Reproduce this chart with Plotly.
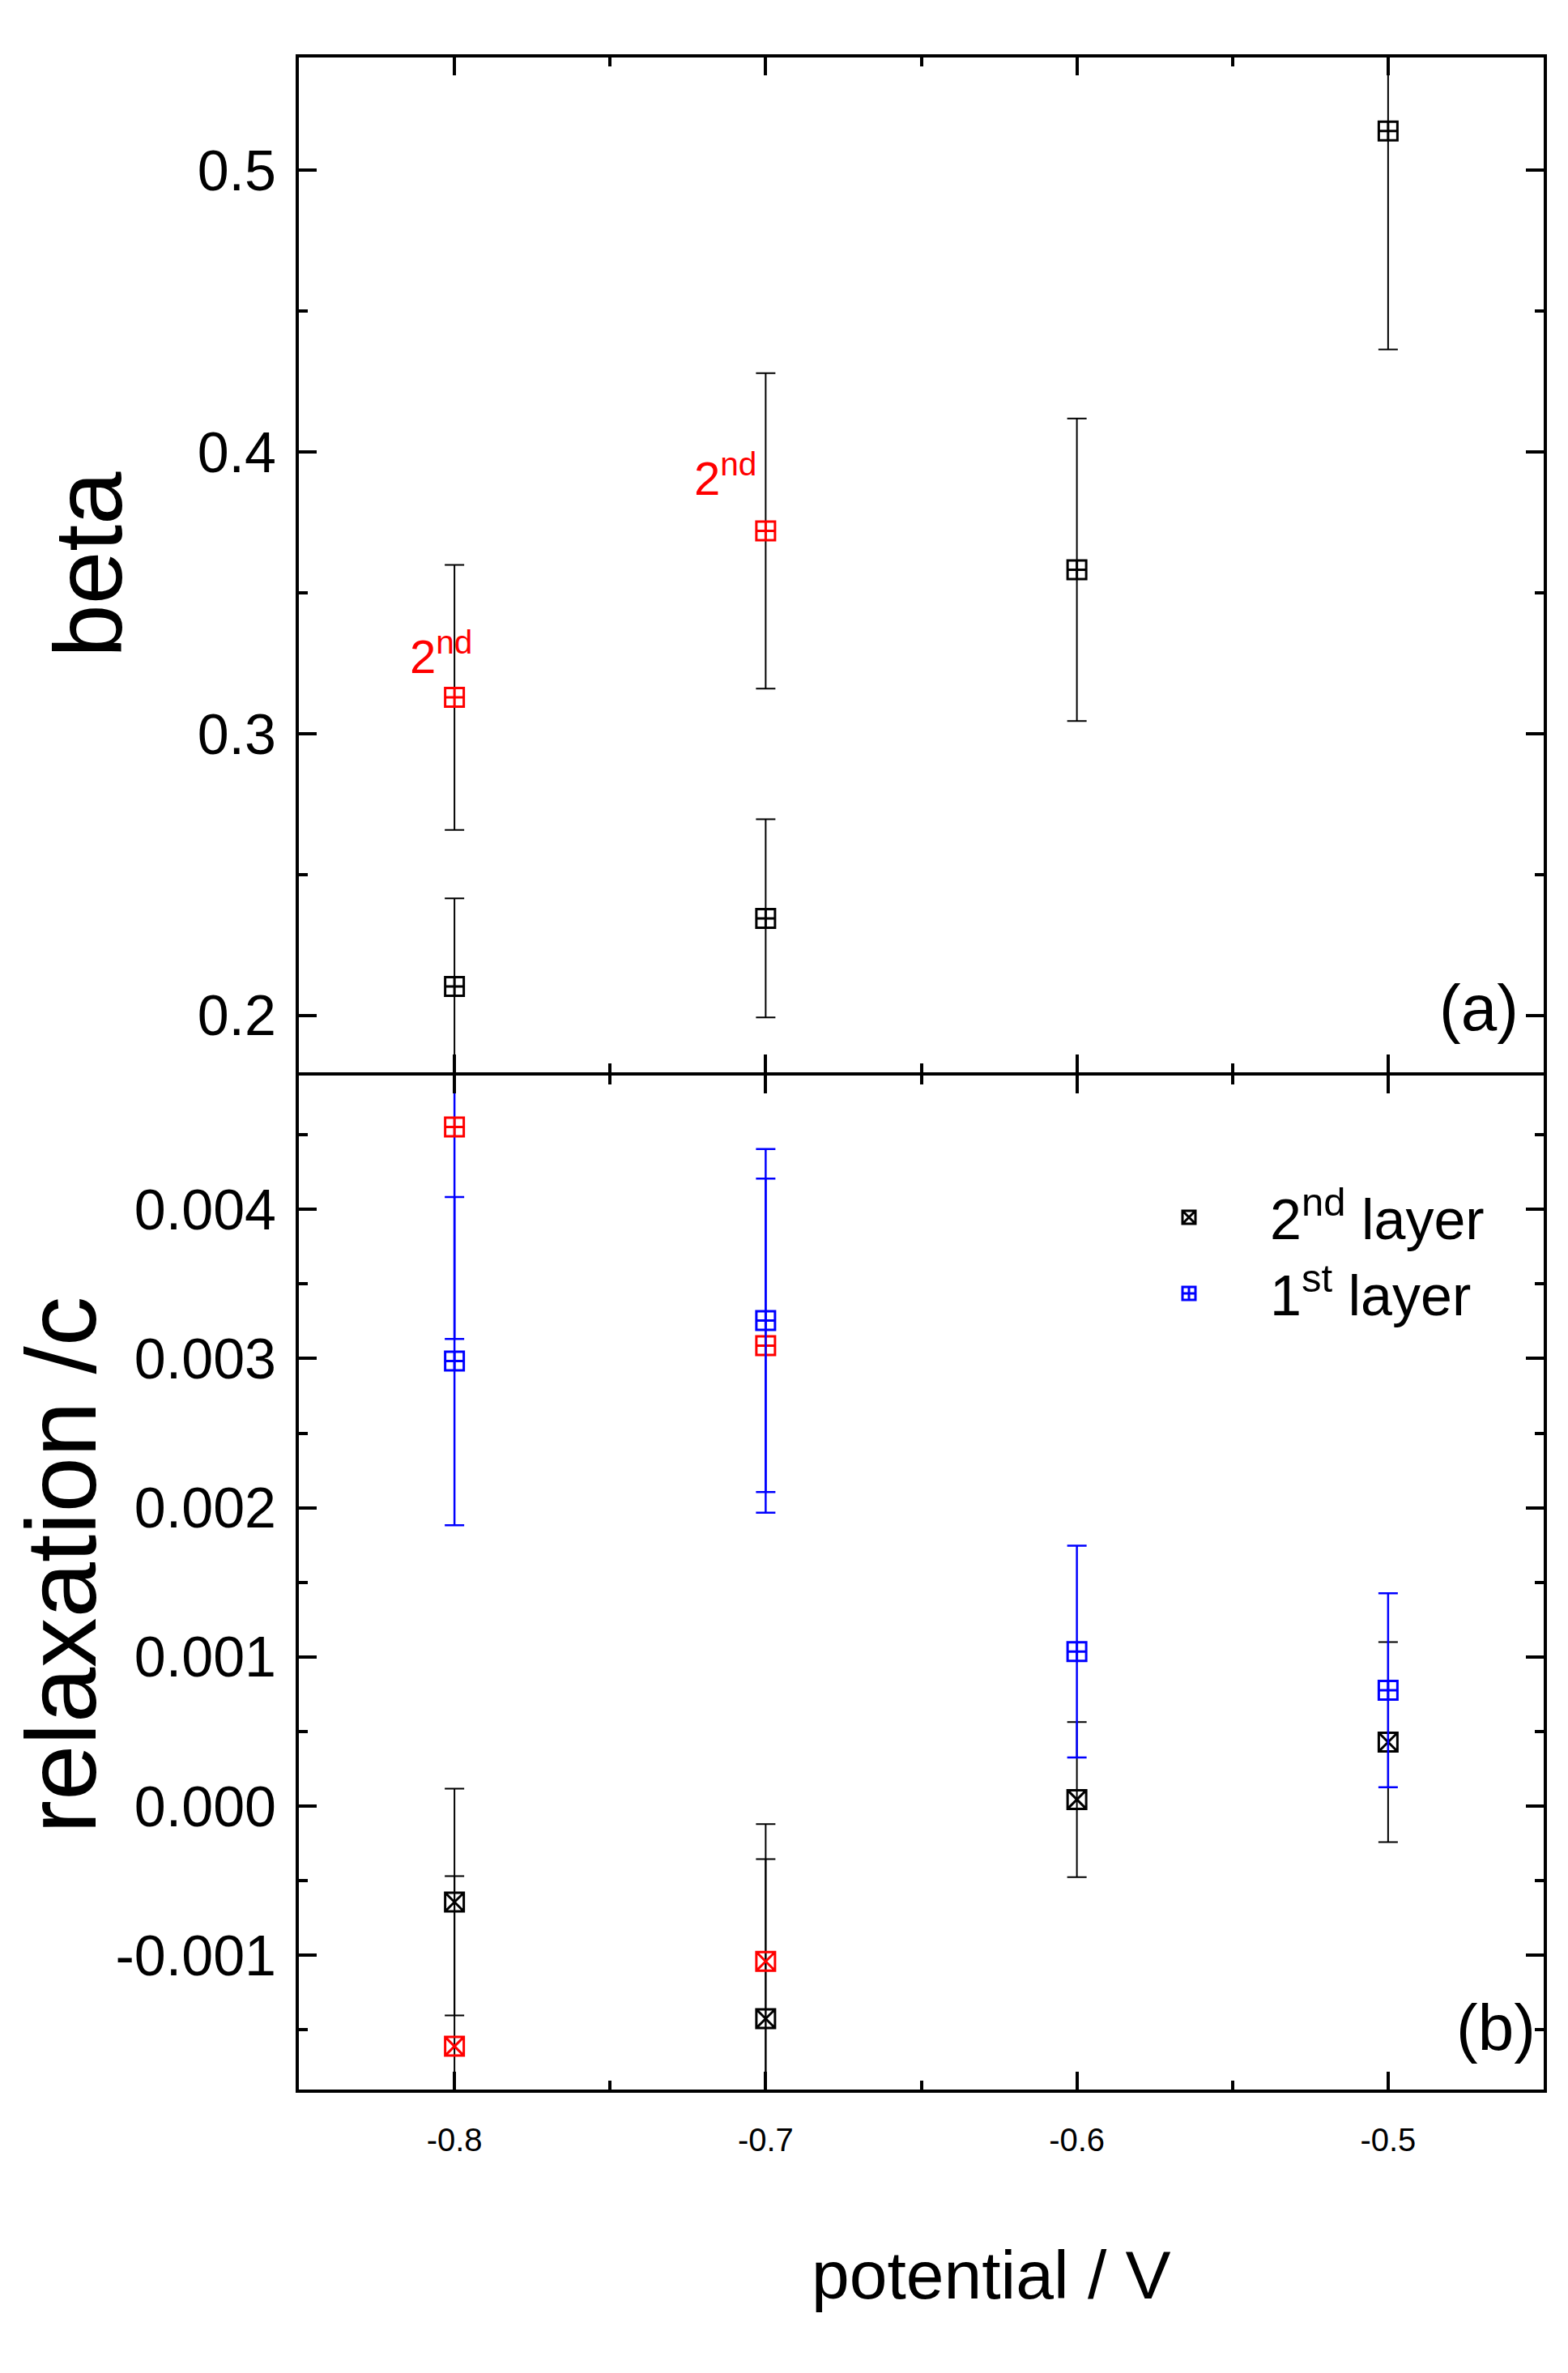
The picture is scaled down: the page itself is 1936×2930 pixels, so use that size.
import plotly.graph_objects as go

# ---------------- data ----------------
potential = [-0.8, -0.7, -0.6, -0.5]
potential_red = [-0.8, -0.7]

# (a) beta
beta_black = [0.2103, 0.2345, 0.3582, 0.5139]
beta_black_err = [0.0313, 0.0352, 0.0537, 0.0775]
beta_red = [0.3129, 0.3720]
beta_red_err = [0.047, 0.056]

# (b) relaxation /c
relax_2nd = [-0.000643, -0.001425, 0.000044, 0.000429]
relax_2nd_err = [0.00076, 0.00107, 0.00052, 0.00067]
relax_2nd_red = [-0.00161, -0.001041]
relax_2nd_red_err = [0.00114, 0.00092]
relax_1st = [0.002983, 0.003255, 0.001036, 0.000777]
relax_1st_err = [0.00110, 0.00115, 0.00071, 0.00065]
relax_1st_red = [0.004552, 0.003087]
relax_1st_red_err = [0.00142, 0.00112]

x_tickvals = [-0.8, -0.7, -0.6, -0.5]
x_ticktext = ["-0.8", "-0.7", "-0.6", "-0.5"]
beta_tickvals = [0.2, 0.3, 0.4, 0.5]
beta_ticktext = ["0.2", "0.3", "0.4", "0.5"]
relax_tickvals = [-0.001, 0.0, 0.001, 0.002, 0.003, 0.004]
relax_ticktext = ["-0.001", "0.000", "0.001", "0.002", "0.003", "0.004"]

legend_2nd = "2<sup>nd</sup> layer"
legend_1st = "1<sup>st</sup> layer"

FONT = "Liberation Sans, Arial, sans-serif"
W, H = 1936, 2930
# inner plot area (axis lines of width 4 are drawn just outside it)
ML, MR, MT, MB = 369, 30, 71, 350
PW = W - ML - MR
PH = H - MT - MB
SPLIT_TOP_PX = 1323.5      # bottom edge of panel (a)
SPLIT_BOT_PX = 1327.5      # top edge of panel (b)


def px_x(px):
    return (px - ML) / PW


def px_y(py):
    return 1 - (py - MT) / PH


def marker(symbol, color):
    return dict(symbol=symbol, size=23, color=color, line=dict(width=3, color=color))


def err(vals, color, thick=2):
    return dict(type="data", array=vals, visible=True, color=color, thickness=thick, width=12)


fig = go.Figure()

# ---- top panel (a) ----
fig.add_trace(go.Scatter(x=potential, y=beta_black, mode="markers", xaxis="x2", yaxis="y2",
                         marker=marker("square-cross-open", "black"),
                         error_y=err(beta_black_err, "black"), showlegend=False))
fig.add_trace(go.Scatter(x=potential_red, y=beta_red, mode="markers", xaxis="x2", yaxis="y2",
                         marker=marker("square-cross-open", "red"),
                         error_y=err(beta_red_err, "black"), showlegend=False))

# ---- bottom panel (b) ----
fig.add_trace(go.Scatter(x=potential, y=relax_2nd, mode="markers", xaxis="x", yaxis="y",
                         marker=marker("square-x-open", "black"),
                         error_y=err(relax_2nd_err, "black"), name=legend_2nd, showlegend=True))
fig.add_trace(go.Scatter(x=potential_red, y=relax_2nd_red, mode="markers", xaxis="x", yaxis="y",
                         marker=marker("square-x-open", "red"),
                         error_y=err(relax_2nd_red_err, "black"), showlegend=False))
fig.add_trace(go.Scatter(x=potential_red, y=relax_1st_red, mode="markers", xaxis="x", yaxis="y",
                         marker=marker("square-cross-open", "red"),
                         error_y=err(relax_1st_red_err, "blue", 2.5), showlegend=False))
fig.add_trace(go.Scatter(x=potential, y=relax_1st, mode="markers", xaxis="x", yaxis="y",
                         marker=marker("square-cross-open", "blue"),
                         error_y=err(relax_1st_err, "blue", 2.5), name=legend_1st, showlegend=True))

axis_common = dict(showline=True, linewidth=4, linecolor="black", mirror="ticks",
                   ticks="inside", ticklen=22, tickwidth=4, tickcolor="black",
                   showgrid=False, zeroline=False)
minor_common = dict(ticks="inside", ticklen=11, tickwidth=4, tickcolor="black")

fig.update_layout(
    width=W, height=H,
    margin=dict(l=ML, r=MR, t=MT, b=MB, pad=0),
    paper_bgcolor="white", plot_bgcolor="white",
    font=dict(family=FONT, color="black"),
    xaxis=dict(domain=[0, 1], anchor="y", range=[-0.85, -0.45],
               tickmode="array", tickvals=x_tickvals, ticktext=x_ticktext,
               tickfont=dict(size=40, family=FONT), ticklabelstandoff=24,
               minor=dict(tick0=-0.85, dtick=0.05, **minor_common),
               **axis_common),
    xaxis2=dict(domain=[0, 1], anchor="y2", range=[-0.85, -0.45], matches="x",
                tickmode="array", tickvals=x_tickvals, showticklabels=False,
                minor=dict(tick0=-0.85, dtick=0.05, **minor_common),
                **axis_common),
    yaxis=dict(domain=[0, px_y(SPLIT_BOT_PX)], anchor="x", range=[-0.0019, 0.0049],
               tickmode="array", tickvals=relax_tickvals, ticktext=relax_ticktext,
               tickfont=dict(size=70, family=FONT), ticklabelstandoff=10,
               minor=dict(tick0=0, dtick=0.0005, **minor_common),
               **axis_common),
    yaxis2=dict(domain=[px_y(SPLIT_TOP_PX), 1], anchor="x2", range=[0.18, 0.54],
                tickmode="array", tickvals=beta_tickvals, ticktext=beta_ticktext,
                tickfont=dict(size=70, family=FONT), ticklabelstandoff=10,
                minor=dict(tick0=0, dtick=0.05, **minor_common),
                **axis_common),
    legend=dict(x=px_x(1368), y=px_y(1451), xanchor="left", yanchor="top",
                font=dict(size=70, family=FONT, color="black"),
                bgcolor="rgba(0,0,0,0)", itemwidth=190, tracegroupgap=0,
                itemsizing="trace"),
    showlegend=True,
)

annotations = [
    dict(text="beta", x=px_x(109), y=px_y(697), xref="paper", yref="paper",
         textangle=-90, showarrow=False, font=dict(size=118, family=FONT),
         xanchor="center", yanchor="middle"),
    dict(text="relaxation /c", x=px_x(75), y=px_y(1933), xref="paper", yref="paper",
         textangle=-90, showarrow=False, font=dict(size=123, family=FONT),
         xanchor="center", yanchor="middle"),
    dict(text="potential / V", x=px_x(1224), y=px_y(2809), xref="paper", yref="paper",
         showarrow=False, font=dict(size=84, family=FONT),
         xanchor="center", yanchor="middle"),
    dict(text="(a)", x=px_x(1826), y=px_y(1244), xref="paper", yref="paper",
         showarrow=False, font=dict(size=80, family=FONT),
         xanchor="center", yanchor="middle"),
    dict(text="(b)", x=px_x(1847), y=px_y(2503), xref="paper", yref="paper",
         showarrow=False, font=dict(size=80, family=FONT),
         xanchor="center", yanchor="middle"),
    dict(text="2<sup>nd</sup>", x=-0.8044, y=0.3286, xref="x2", yref="y2",
         showarrow=False, font=dict(size=58, family=FONT, color="red"),
         xanchor="center", yanchor="middle"),
    dict(text="2<sup>nd</sup>", x=-0.713, y=0.3917, xref="x2", yref="y2",
         showarrow=False, font=dict(size=58, family=FONT, color="red"),
         xanchor="center", yanchor="middle"),
]
fig.update_layout(annotations=annotations)

fig.write_html("out.html", config={"displayModeBar": False},
               post_script="document.body.style.margin='0px';")
